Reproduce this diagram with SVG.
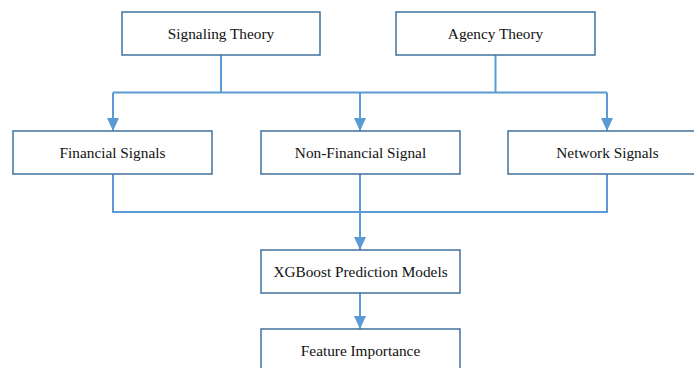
<svg xmlns="http://www.w3.org/2000/svg" width="694" height="368" viewBox="0 0 694 368">
<style>
.box{fill:#fff;stroke:#41719C;stroke-width:1.5}
.lbl{font-family:"Liberation Serif","Times New Roman",serif;font-size:15.3px;fill:#111;text-anchor:middle}
.cn{fill:none;stroke:#5B9BD5;stroke-width:2}
</style>
<defs>
<marker id="ah" markerWidth="13" markerHeight="12" refX="13" refY="6" orient="auto" markerUnits="userSpaceOnUse" viewBox="0 0 13 12">
<path d="M0,0 L13,6 L0,12 Z" fill="#5B9BD5"/>
</marker>
</defs>
<rect width="694" height="368" fill="#fff"/>
<g id="connectors">
<path class="cn" d="M221,55 V92.5 M495.5,55 V92.5 M113,92.5 H607"/>
<path class="cn" d="M113,92.5 V131" marker-end="url(#ah)"/>
<path class="cn" d="M360,92.5 V131" marker-end="url(#ah)"/>
<path class="cn" d="M607,92.5 V131" marker-end="url(#ah)"/>
<path class="cn" d="M113,174 V212 H607 V174"/>
<path class="cn" d="M360,174 V250" marker-end="url(#ah)"/>
<path class="cn" d="M360,293 V329" marker-end="url(#ah)"/>
</g>
<g id="signaling"><rect class="box" x="122" y="12" width="198" height="43"/><text class="lbl" x="221" y="38.5">Signaling Theory</text></g>
<g id="agency"><rect class="box" x="396" y="12" width="199" height="43"/><text class="lbl" x="495.5" y="38.5">Agency Theory</text></g>
<g id="financial"><rect class="box" x="13" y="131" width="199" height="43"/><text class="lbl" x="112.5" y="158">Financial Signals</text></g>
<g id="nonfinancial"><rect class="box" x="261" y="131" width="199" height="43"/><text class="lbl" x="360.5" y="158">Non-Financial Signal</text></g>
<g id="network"><rect class="box" x="508" y="131" width="199" height="43"/><text class="lbl" x="607.5" y="158">Network Signals</text></g>
<g id="xgboost"><rect class="box" x="261" y="250" width="199" height="43"/><text class="lbl" x="360.5" y="277">XGBoost Prediction Models</text></g>
<g id="feature"><rect class="box" x="261" y="329" width="199" height="43"/><text class="lbl" x="360.5" y="356">Feature Importance</text></g>
</svg>
